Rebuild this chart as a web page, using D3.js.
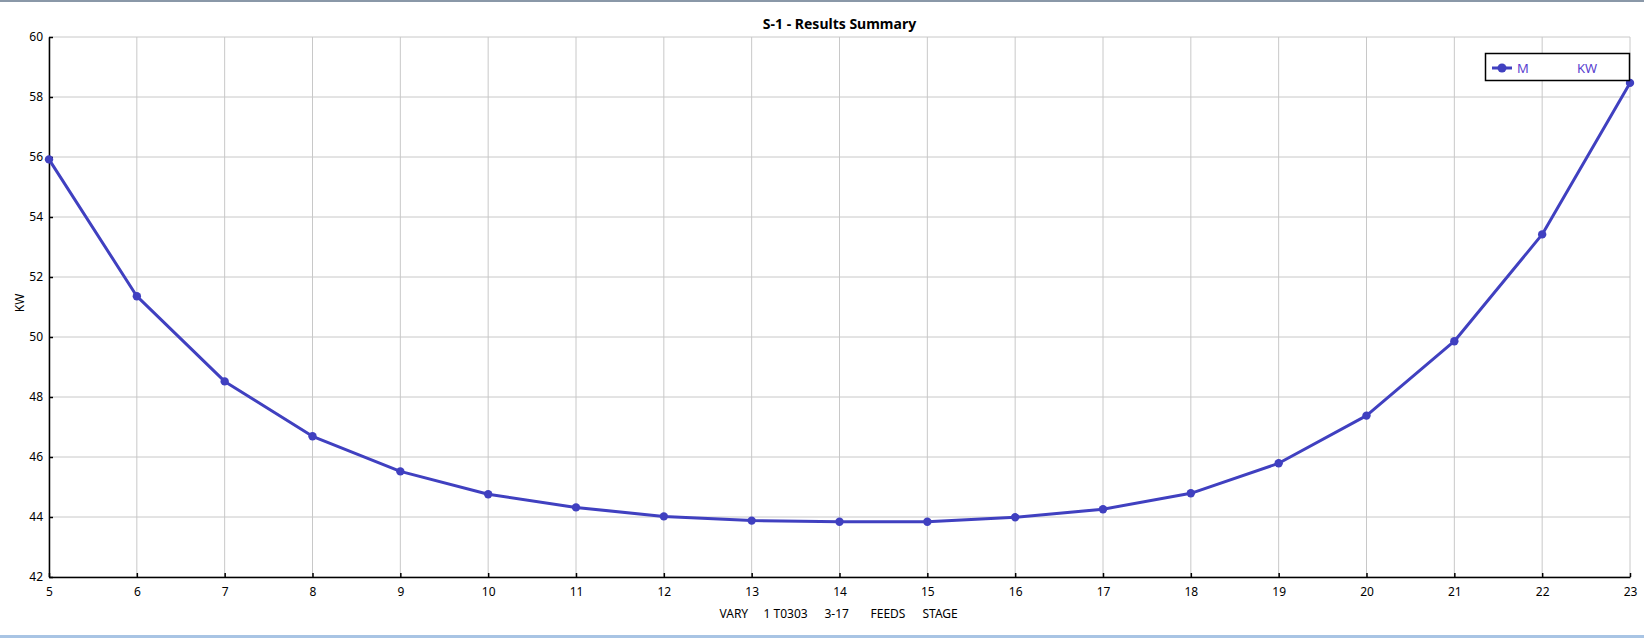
<!DOCTYPE html>
<html><head><meta charset="utf-8">
<script src="https://cdn.jsdelivr.net/npm/d3@7"></script>
<style>
html,body{margin:0;padding:0;background:#fff;overflow:hidden;}
text{font-family:"Noto Sans","DejaVu Sans",sans-serif;}
</style></head>
<body>
<svg id="chart" width="1644" height="638"></svg>
<script>
const stages = [5,6,7,8,9,10,11,12,13,14,15,16,17,18,19,20,21,22,23];
const kwValues = [55.92,51.36,48.52,46.69,45.52,44.76,44.32,44.02,43.88,43.84,43.84,43.99,44.26,44.79,45.79,47.38,49.86,53.42,58.47];
const yTicks = [42,44,46,48,50,52,54,56,58,60];
const title = "S-1 - Results Summary";
const xTitleParts = ["VARY", "1 T0303", "3-17", "FEEDS", "STAGE"];
const yTitle = "KW";
const legendLabels = ["M", "KW"];

const W = 1644, H = 638;
const m = {left:49, right:W-1630, top:37, bottom:H-577};
const svg = d3.select("#chart");
const lineColor = "#4040c0";

// window decorations
svg.append("rect").attr("x",0).attr("y",0).attr("width",W).attr("height",2).attr("fill","#8a98a8");
svg.append("rect").attr("x",0).attr("y",635).attr("width",W).attr("height",3).attr("fill","#a8c4e4");

const x = d3.scaleLinear().domain([5,23]).range([m.left, W-m.right]);
const y = d3.scaleLinear().domain([42,60]).range([H-m.bottom, m.top]);

// grid
svg.append("g").selectAll("line").data(stages).join("line")
  .attr("x1",d=>x(d)).attr("x2",d=>x(d)).attr("y1",y(42)).attr("y2",y(60))
  .attr("stroke","#c8c8c8").attr("stroke-width",1);
svg.append("g").selectAll("line").data(yTicks).join("line")
  .attr("x1",x(5)).attr("x2",x(23)).attr("y1",d=>y(d)).attr("y2",d=>y(d))
  .attr("stroke","#c8c8c8").attr("stroke-width",1);

// axes
const xAxis = svg.append("g").attr("transform",`translate(0,${y(42)})`)
  .call(d3.axisBottom(x).tickValues(stages).tickFormat(d3.format("d")).tickSizeInner(-4).tickSizeOuter(0).tickPadding(10));
const yAxis = svg.append("g").attr("transform",`translate(${x(5)},0)`)
  .call(d3.axisLeft(y).tickValues(yTicks).tickFormat(d3.format("d")).tickSizeInner(-4).tickSizeOuter(0).tickPadding(6));
[xAxis,yAxis].forEach(g=>{
  g.select(".domain").attr("stroke","#000").attr("stroke-width",1.5);
  g.selectAll(".tick line").attr("stroke","#000").attr("stroke-width",1.5);
  g.selectAll(".tick text").attr("fill","#000").style("font-size","12px").style("font-family","'Noto Sans',sans-serif");
});

// title
svg.append("text").attr("x",(x(5)+x(23))/2).attr("y",29).attr("text-anchor","middle")
  .style("font-size","14px").style("font-weight","bold").attr("fill","#000").text(title);
// x title (word groups spaced as in the original)
const cx = (x(5)+x(23))/2;
const partOffsets = [-120, -76, -15, 31, 83];
const xt = svg.append("text").attr("y",618).style("font-size","12px").attr("fill","#000");
xt.selectAll("tspan").data(xTitleParts).join("tspan")
  .attr("x",(d,i)=>cx+partOffsets[i]).text(d=>d);
// y title
svg.append("text").attr("transform","translate(24,303) rotate(-90)").attr("text-anchor","middle")
  .style("font-size","12px").attr("fill","#000").text(yTitle);

// line
const line = d3.line().x((d,i)=>x(stages[i])).y(d=>y(d));
svg.append("path").datum(kwValues).attr("d",line).attr("fill","none")
  .attr("stroke",lineColor).attr("stroke-width",3).attr("stroke-linejoin","round");
svg.append("g").selectAll("circle").data(kwValues).join("circle")
  .attr("cx",(d,i)=>x(stages[i])).attr("cy",d=>y(d)).attr("r",4.2).attr("fill",lineColor);

// legend
const lg = svg.append("g");
lg.append("rect").attr("x",1485.5).attr("y",53.5).attr("width",144).attr("height",27)
  .attr("fill","#fff").attr("stroke","#000").attr("stroke-width",1.5);
lg.append("line").attr("x1",1492).attr("x2",1512).attr("y1",68).attr("y2",68).attr("stroke",lineColor).attr("stroke-width",3);
lg.append("circle").attr("cx",1502).attr("cy",68).attr("r",4.5).attr("fill",lineColor);
lg.append("text").attr("x",1517).attr("y",73).style("font-size","13px").attr("fill","#5a3fcf").text(legendLabels[0]);
lg.append("text").attr("x",1577).attr("y",73).style("font-size","13px").attr("fill","#5a3fcf").text(legendLabels[1]);
</script>
</body></html>
